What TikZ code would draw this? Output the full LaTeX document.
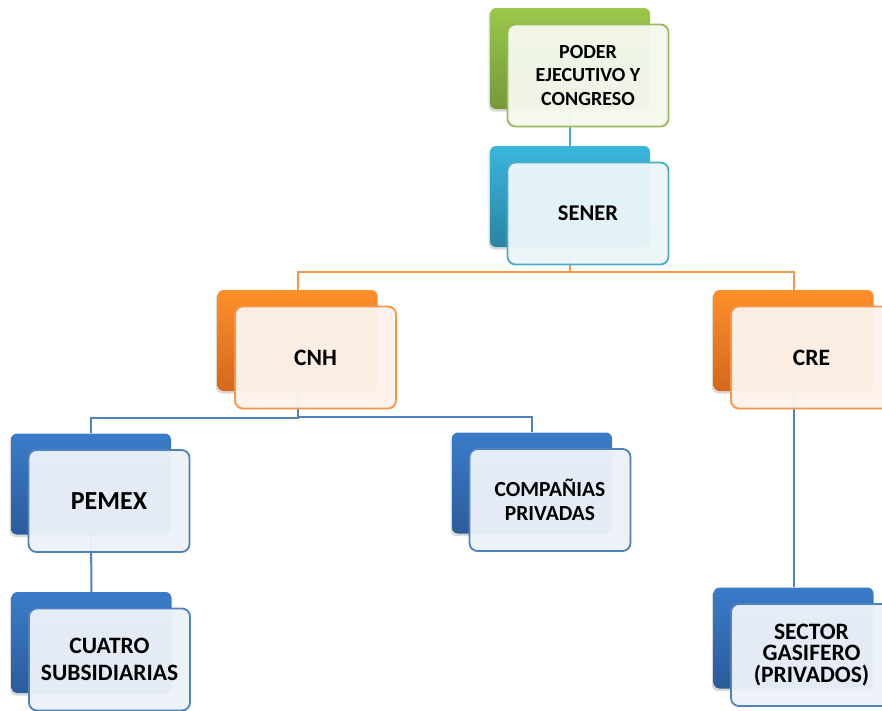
\documentclass[tikz,border=0pt]{standalone}
\usepackage{fontspec}
\setmainfont{Carlito}
\usetikzlibrary{shadows}

\definecolor{grn}{HTML}{9BBB59}
\definecolor{grnT}{HTML}{9CC74A}
\definecolor{grnB}{HTML}{76983A}
\definecolor{aqua}{HTML}{4BACC6}
\definecolor{aquaT}{HTML}{3AB6DC}
\definecolor{aquaB}{HTML}{2A84A2}
\definecolor{orng}{HTML}{F79646}
\definecolor{orngT}{HTML}{FE8F2A}
\definecolor{orngB}{HTML}{D4681C}
\definecolor{blu}{HTML}{4F81BD}
\definecolor{bluT}{HTML}{3A7CC9}
\definecolor{bluB}{HTML}{2C5C9A}

\begin{document}
\begin{tikzpicture}[x=1pt,y=-1pt,
		back/.style={rounded corners=6pt,top color=#1T,bottom color=#1B,minimum width=160pt,minimum height=101pt,drop shadow={shadow xshift=-1.5pt,shadow yshift=-2.5pt,opacity=0.3}},
		front/.style={draw=#1,line width=1.8pt,rounded corners=8pt,fill=#1!11,fill opacity=0.96,text opacity=1,minimum width=161pt,minimum height=102pt,inner sep=0pt,align=center},
		link/.style={draw=#1,line width=2pt}]
		\useasboundingbox (0,0) rectangle (882,710);
		\clip (0,0) rectangle (882,710);
		% back boxes
		\foreach \n/\x/\y/\c in {poder/570/58.5/grn,sener/570/196.5/aqua,cnh/297.5/340.5/orng,cre/793.5/340.5/orng,pemex/91/484/blu,comp/532/483/blu,cuatro/91.5/642.5/blu,sector/793.5/638/blu} {
			\node[back=\c] (\n-b) at (\x,\y) {};
		}
		% links
		\draw[link=aqua] (poder-b.south) -- (sener-b.north);
		\draw[link=orng] (cnh-b.north) -- ++(0,-18) -| (sener-b.south);
		\draw[link=orng] (cre-b.north) -- ++(0,-18) -| (sener-b.south);
		\draw[link=blu] (pemex-b.north) -- ++(0,-15) -| (cnh-b.south);
		\draw[link=blu] (comp-b.north) -- ++(0,-15) -| (cnh-b.south);
		\draw[link=blu] (pemex-b.south) -- (cuatro-b.north);
		\draw[link=blu] (cre-b.south) -- (sector-b.north);
		% front boxes
		\node[front=grn,font=\bfseries\fontsize{20}{23.5}\selectfont] (poder) at ([shift={(18,17)}]poder-b) {PODER\\EJECUTIVO Y\\CONGRESO};
		\node[front=aqua,font=\bfseries\fontsize{22.5}{27}\selectfont] (sener) at ([shift={(18,17)}]sener-b) {SENER};
		\node[front=orng,font=\bfseries\fontsize{23.5}{28}\selectfont] (cnh) at ([shift={(18,17)}]cnh-b) {CNH};
		\node[front=orng,font=\bfseries\fontsize{23.5}{28}\selectfont] (cre) at ([shift={(18,17)}]cre-b) {CRE};
		\node[front=blu,font=\bfseries\fontsize{26}{31}\selectfont] (pemex) at ([shift={(18,17)}]pemex-b) {PEMEX};
		\node[front=blu,font=\bfseries\fontsize{21.5}{23.5}\selectfont] (comp) at ([shift={(18,17)}]comp-b) {COMPAÑIAS\\PRIVADAS};
		\node[front=blu,font=\bfseries\fontsize{23.5}{26.5}\selectfont] (cuatro) at ([shift={(18,17)}]cuatro-b) {CUATRO\\SUBSIDIARIAS};
		\node[front=blu,font=\bfseries\fontsize{23.5}{21.5}\selectfont] (sector) at ([shift={(18,17)}]sector-b) {SECTOR\\GASIFERO\\(PRIVADOS)};
	\end{tikzpicture}
\end{document}
